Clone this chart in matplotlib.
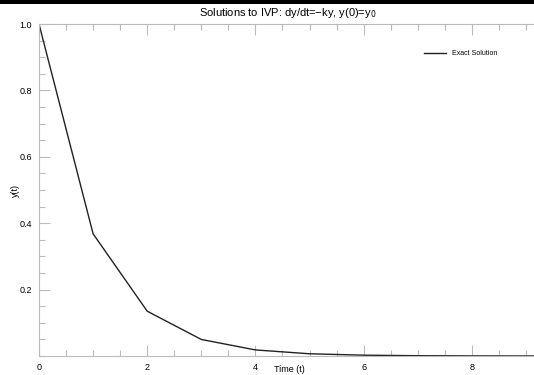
import matplotlib
matplotlib.use("Agg")
import matplotlib.pyplot as plt
from matplotlib.ticker import MultipleLocator

plt.rcParams["font.family"] = ["Liberation Sans", "DejaVu Sans"]

t = [0, 1, 2, 3, 4, 5, 6, 7, 8, 9, 10]
y = [1.0, 0.368, 0.135, 0.0498, 0.0183, 0.0067, 0.0025, 0.0009, 0.0003, 0.0001, 0.00005]
x_ticks = [0, 2, 4, 6, 8]
y_ticks = [0.2, 0.4, 0.6, 0.8, 1.0]
y_tick_labels = ["0.2", "0.4", "0.6", "0.8", "1.0"]

W, H = 534, 375
fig = plt.figure(figsize=(W / 100, H / 100), dpi=100)

# axes box in pixels: left 39, top 24, bottom 356; runs off the right edge
left, top, bottom, unit = 39, 24, 356, 54.1
ax = fig.add_axes([left / W, 1 - bottom / H, 10 * unit / W, (bottom - top) / H])
ax.plot(t, y, color="#222222", lw=1.0, label="Exact Solution")
ax.set_xlim(0, 10)
ax.set_ylim(0, 1.0)

ax.set_xticks(x_ticks)
ax.set_yticks(y_ticks)
ax.set_yticklabels(y_tick_labels)
ax.xaxis.set_minor_locator(MultipleLocator(0.5))
ax.yaxis.set_minor_locator(MultipleLocator(0.05))
ax.tick_params(which="both", direction="in", top=True, right=True,
               color="#bbbbbb", labelsize=6.5, width=0.8)
ax.tick_params(which="major", length=8, pad=5)
ax.tick_params(which="minor", length=4)
for s in ax.spines.values():
    s.set_color("#bbbbbb")
    s.set_linewidth(0.8)

# axis labels placed by hand, tight against the bottom / left edges
fig.text(289 / W, 1 - 365 / H, "Time (t)", ha="center", va="top", fontsize=6.5)
fig.text(15 / W, 1 - 190 / H, "y(t)", ha="center", va="center", rotation=90, fontsize=6.5)

fig.text(288 / W, 1 - 13 / H, "Solutions to IVP: dy/dt=\u2212ky, y(0)=y$_0$",
         ha="center", va="center", fontsize=8)

leg = ax.legend(loc="upper left", bbox_to_anchor=((418 - left) / (10 * unit), 0.94),
                frameon=False, fontsize=5, handlelength=3.2, handletextpad=0.8)

# black rule along the top edge
fig.add_artist(plt.Rectangle((0, 1 - 3.5 / H), 1, 3.5 / H, transform=fig.transFigure,
                             color="black", lw=0))

fig.savefig("out.png", dpi=100)
